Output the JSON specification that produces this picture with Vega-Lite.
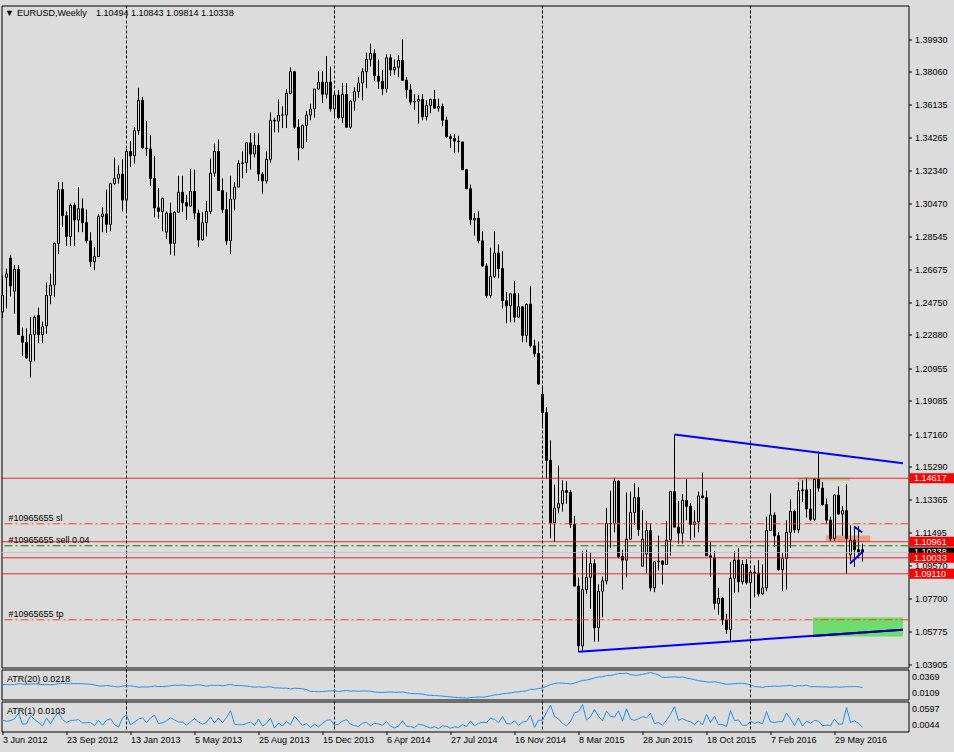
{
"$schema":"https://vega.github.io/schema/vega-lite/v6.json",
"background":"#dcdcdc",
"padding":{"left":-0.5,"top":4.5,"right":0,"bottom":6},
"bounds":"flush",
"spacing":2,
"config":{"view":{"stroke":"#000","strokeWidth":1},"font":"Liberation Sans","axis":{"labelFont":"Liberation Sans","labelFontSize":9,"labelColor":"#000","tickColor":"#000","grid":false,"domain":false,"labelOverlap":false}},
"resolve":{"scale":{"x":"independent","y":"independent"}},
"datasets":{
"c":[
{"k":0,"o":1.2420,"h":1.2630,"l":1.2385,"c":1.2515,"a1":0.0245,"a20":0.02445},
{"k":1,"o":1.2620,"h":1.2670,"l":1.2440,"c":1.2640,"a1":0.0230,"a20":0.02438},
{"k":2,"o":1.2730,"h":1.2750,"l":1.2510,"c":1.2570,"a1":0.0240,"a20":0.02435},
{"k":3,"o":1.2540,"h":1.2690,"l":1.2410,"c":1.2665,"a1":0.0280,"a20":0.02453},
{"k":4,"o":1.2665,"h":1.2690,"l":1.2290,"c":1.2290,"a1":0.0400,"a20":0.0253},
{"k":5,"o":1.2280,"h":1.2330,"l":1.2165,"c":1.2245,"a1":0.0165,"a20":0.0249},
{"k":6,"o":1.2245,"h":1.2325,"l":1.2150,"c":1.2155,"a1":0.0175,"a20":0.02455},
{"k":7,"o":1.2135,"h":1.2390,"l":1.2042,"c":1.2290,"a1":0.0348,"a20":0.02507},
{"k":8,"o":1.2290,"h":1.2400,"l":1.2135,"c":1.2390,"a1":0.0265,"a20":0.02517},
{"k":9,"o":1.2400,"h":1.2445,"l":1.2240,"c":1.2290,"a1":0.0205,"a20":0.02497},
{"k":10,"o":1.2290,"h":1.2365,"l":1.2240,"c":1.2335,"a1":0.0125,"a20":0.02437},
{"k":11,"o":1.2340,"h":1.2590,"l":1.2295,"c":1.2515,"a1":0.0295,"a20":0.0246},
{"k":12,"o":1.2515,"h":1.2640,"l":1.2465,"c":1.2575,"a1":0.0175,"a20":0.02427},
{"k":13,"o":1.2575,"h":1.2820,"l":1.2505,"c":1.2815,"a1":0.0315,"a20":0.0246},
{"k":14,"o":1.2815,"h":1.3170,"l":1.2755,"c":1.3125,"a1":0.0415,"a20":0.02547},
{"k":15,"o":1.3125,"h":1.3170,"l":1.2910,"c":1.2975,"a1":0.0260,"a20":0.02554},
{"k":16,"o":1.2975,"h":1.3000,"l":1.2800,"c":1.2855,"a1":0.0200,"a20":0.0253},
{"k":17,"o":1.2855,"h":1.3045,"l":1.2800,"c":1.3035,"a1":0.0245,"a20":0.0253},
{"k":18,"o":1.3035,"h":1.3050,"l":1.2800,"c":1.2950,"a1":0.0250,"a20":0.02534},
{"k":19,"o":1.2950,"h":1.3140,"l":1.2880,"c":1.3015,"a1":0.0260,"a20":0.0254},
{"k":20,"o":1.3015,"h":1.3075,"l":1.2880,"c":1.2935,"a1":0.0195,"a20":0.0252},
{"k":21,"o":1.2935,"h":1.3010,"l":1.2815,"c":1.2830,"a1":0.0195,"a20":0.0250},
{"k":22,"o":1.2830,"h":1.2880,"l":1.2680,"c":1.2710,"a1":0.0200,"a20":0.0248},
{"k":23,"o":1.2710,"h":1.2795,"l":1.2660,"c":1.2740,"a1":0.0135,"a20":0.0241},
{"k":24,"o":1.2740,"h":1.2985,"l":1.2740,"c":1.2970,"a1":0.0245,"a20":0.0233},
{"k":25,"o":1.2970,"h":1.3025,"l":1.2880,"c":1.2985,"a1":0.0145,"a20":0.0232},
{"k":26,"o":1.2985,"h":1.3125,"l":1.2875,"c":1.2925,"a1":0.0250,"a20":0.0236},
{"k":27,"o":1.2925,"h":1.3165,"l":1.2885,"c":1.3160,"a1":0.0280,"a20":0.0233},
{"k":28,"o":1.3160,"h":1.3310,"l":1.3150,"c":1.3190,"a1":0.0160,"a20":0.02275},
{"k":29,"o":1.3190,"h":1.3265,"l":1.3160,"c":1.3215,"a1":0.0105,"a20":0.02225},
{"k":30,"o":1.3215,"h":1.3300,"l":1.3000,"c":1.3065,"a1":0.0300,"a20":0.0231},
{"k":31,"o":1.3065,"h":1.3360,"l":1.3000,"c":1.3345,"a1":0.0360,"a20":0.02345},
{"k":32,"o":1.3345,"h":1.3405,"l":1.3255,"c":1.3320,"a1":0.0150,"a20":0.0233},
{"k":33,"o":1.3320,"h":1.3485,"l":1.3275,"c":1.3465,"a1":0.0210,"a20":0.0228},
{"k":34,"o":1.3465,"h":1.3712,"l":1.3440,"c":1.3640,"a1":0.0272,"a20":0.0221},
{"k":35,"o":1.3640,"h":1.3660,"l":1.3360,"c":1.3365,"a1":0.0300,"a20":0.0223},
{"k":36,"o":1.3365,"h":1.3520,"l":1.3320,"c":1.3360,"a1":0.0200,"a20":0.0223},
{"k":37,"o":1.3360,"h":1.3440,"l":1.3145,"c":1.3190,"a1":0.0295,"a20":0.0225},
{"k":38,"o":1.3190,"h":1.3320,"l":1.2965,"c":1.3020,"a1":0.0355,"a20":0.0231},
{"k":39,"o":1.3020,"h":1.3135,"l":1.2955,"c":1.3000,"a1":0.0180,"a20":0.0227},
{"k":40,"o":1.3000,"h":1.3080,"l":1.2885,"c":1.3075,"a1":0.0195,"a20":0.0227},
{"k":41,"o":1.2880,"h":1.3000,"l":1.2840,"c":1.2990,"a1":0.0235,"a20":0.0229},
{"k":42,"o":1.2990,"h":1.3050,"l":1.2750,"c":1.2815,"a1":0.0300,"a20":0.0234},
{"k":43,"o":1.2815,"h":1.3000,"l":1.2745,"c":1.2995,"a1":0.0255,"a20":0.0240},
{"k":44,"o":1.2995,"h":1.3205,"l":1.2995,"c":1.3110,"a1":0.0210,"a20":0.0238},
{"k":45,"o":1.3110,"h":1.3205,"l":1.2995,"c":1.3050,"a1":0.0210,"a20":0.0241},
{"k":46,"o":1.3050,"h":1.3095,"l":1.2950,"c":1.3030,"a1":0.0145,"a20":0.0236},
{"k":47,"o":1.3030,"h":1.3245,"l":1.3030,"c":1.3115,"a1":0.0215,"a20":0.0233},
{"k":48,"o":1.3115,"h":1.3240,"l":1.2955,"c":1.2990,"a1":0.0285,"a20":0.0239},
{"k":49,"o":1.2990,"h":1.3010,"l":1.2795,"c":1.2835,"a1":0.0215,"a20":0.0244},
{"k":50,"o":1.2835,"h":1.2995,"l":1.2830,"c":1.2935,"a1":0.0165,"a20":0.0238},
{"k":51,"o":1.2935,"h":1.3060,"l":1.2855,"c":1.3000,"a1":0.0205,"a20":0.0230},
{"k":52,"o":1.3000,"h":1.3305,"l":1.2985,"c":1.3220,"a1":0.0320,"a20":0.0238},
{"k":53,"o":1.3220,"h":1.3390,"l":1.3200,"c":1.3345,"a1":0.0190,"a20":0.0237},
{"k":54,"o":1.3345,"h":1.3415,"l":1.3120,"c":1.3120,"a1":0.0295,"a20":0.02385},
{"k":55,"o":1.3120,"h":1.3190,"l":1.2990,"c":1.3010,"a1":0.0200,"a20":0.02335},
{"k":56,"o":1.3010,"h":1.3110,"l":1.2805,"c":1.2830,"a1":0.0305,"a20":0.0239},
{"k":57,"o":1.2830,"h":1.3205,"l":1.2755,"c":1.3070,"a1":0.0450,"a20":0.02465},
{"k":58,"o":1.3070,"h":1.3170,"l":1.3005,"c":1.3140,"a1":0.0165,"a20":0.0237},
{"k":59,"o":1.3140,"h":1.3295,"l":1.3140,"c":1.3275,"a1":0.0155,"a20":0.0236},
{"k":60,"o":1.3275,"h":1.3345,"l":1.3190,"c":1.3280,"a1":0.0155,"a20":0.0234},
{"k":61,"o":1.3280,"h":1.3400,"l":1.3220,"c":1.3395,"a1":0.0180,"a20":0.0231},
{"k":62,"o":1.3395,"h":1.3450,"l":1.3240,"c":1.3330,"a1":0.0210,"a20":0.02265},
{"k":63,"o":1.3330,"h":1.3450,"l":1.3310,"c":1.3380,"a1":0.0140,"a20":0.0221},
{"k":64,"o":1.3380,"h":1.3450,"l":1.3175,"c":1.3215,"a1":0.0275,"a20":0.0224},
{"k":65,"o":1.3215,"h":1.3225,"l":1.3100,"c":1.3175,"a1":0.0125,"a20":0.0220},
{"k":66,"o":1.3175,"h":1.3345,"l":1.3160,"c":1.3300,"a1":0.0185,"a20":0.0222},
{"k":67,"o":1.3300,"h":1.3570,"l":1.3280,"c":1.3525,"a1":0.0290,"a20":0.02255},
{"k":68,"o":1.3525,"h":1.3540,"l":1.3455,"c":1.3520,"a1":0.0085,"a20":0.02155},
{"k":69,"o":1.3520,"h":1.3645,"l":1.3455,"c":1.3555,"a1":0.0190,"a20":0.0214},
{"k":70,"o":1.3555,"h":1.3605,"l":1.3480,"c":1.3555,"a1":0.0125,"a20":0.0212},
{"k":71,"o":1.3555,"h":1.3705,"l":1.3480,"c":1.3680,"a1":0.0225,"a20":0.0213},
{"k":72,"o":1.3680,"h":1.3830,"l":1.3675,"c":1.3805,"a1":0.0155,"a20":0.0205},
{"k":73,"o":1.3805,"h":1.3810,"l":1.3475,"c":1.3485,"a1":0.0335,"a20":0.0212},
{"k":74,"o":1.3485,"h":1.3530,"l":1.3295,"c":1.3365,"a1":0.0235,"a20":0.0209},
{"k":75,"o":1.3365,"h":1.3500,"l":1.3360,"c":1.3495,"a1":0.0140,"a20":0.0206},
{"k":76,"o":1.3495,"h":1.3580,"l":1.3400,"c":1.3555,"a1":0.0180,"a20":0.0200},
{"k":77,"o":1.3555,"h":1.3620,"l":1.3525,"c":1.3590,"a1":0.0095,"a20":0.0182},
{"k":78,"o":1.3590,"h":1.3705,"l":1.3540,"c":1.3705,"a1":0.0165,"a20":0.0182},
{"k":79,"o":1.3705,"h":1.3810,"l":1.3700,"c":1.3745,"a1":0.0110,"a20":0.0180},
{"k":80,"o":1.3745,"h":1.3810,"l":1.3625,"c":1.3675,"a1":0.0185,"a20":0.01815},
{"k":81,"o":1.3675,"h":1.3895,"l":1.3650,"c":1.3745,"a1":0.0245,"a20":0.0185},
{"k":82,"o":1.3745,"h":1.3835,"l":1.3575,"c":1.3590,"a1":0.0260,"a20":0.0187},
{"k":83,"o":1.3590,"h":1.3690,"l":1.3550,"c":1.3670,"a1":0.0140,"a20":0.0187},
{"k":84,"o":1.3670,"h":1.3700,"l":1.3530,"c":1.3540,"a1":0.0170,"a20":0.0182},
{"k":85,"o":1.3540,"h":1.3740,"l":1.3510,"c":1.3675,"a1":0.0230,"a20":0.0187},
{"k":86,"o":1.3675,"h":1.3740,"l":1.3480,"c":1.3485,"a1":0.0260,"a20":0.0191},
{"k":87,"o":1.3485,"h":1.3640,"l":1.3475,"c":1.3635,"a1":0.0165,"a20":0.0185},
{"k":88,"o":1.3635,"h":1.3715,"l":1.3580,"c":1.3690,"a1":0.0135,"a20":0.0187},
{"k":89,"o":1.3690,"h":1.3775,"l":1.3655,"c":1.3740,"a1":0.0120,"a20":0.0184},
{"k":90,"o":1.3740,"h":1.3825,"l":1.3640,"c":1.3805,"a1":0.0185,"a20":0.0187},
{"k":91,"o":1.3805,"h":1.3915,"l":1.3710,"c":1.3875,"a1":0.0205,"a20":0.0186},
{"k":92,"o":1.3875,"h":1.3967,"l":1.3835,"c":1.3910,"a1":0.0132,"a20":0.0185},
{"k":93,"o":1.3910,"h":1.3935,"l":1.3750,"c":1.3780,"a1":0.0185,"a20":0.0177},
{"k":94,"o":1.3780,"h":1.3875,"l":1.3705,"c":1.3750,"a1":0.0170,"a20":0.0174},
{"k":95,"o":1.3750,"h":1.3815,"l":1.3670,"c":1.3705,"a1":0.0145,"a20":0.0174},
{"k":96,"o":1.3705,"h":1.3905,"l":1.3685,"c":1.3885,"a1":0.0220,"a20":0.0176},
{"k":97,"o":1.3885,"h":1.3905,"l":1.3780,"c":1.3815,"a1":0.0125,"a20":0.0178},
{"k":98,"o":1.3815,"h":1.3875,"l":1.3785,"c":1.3830,"a1":0.0090,"a20":0.0174},
{"k":99,"o":1.3830,"h":1.3900,"l":1.3775,"c":1.3870,"a1":0.0125,"a20":0.0175},
{"k":100,"o":1.3870,"h":1.3993,"l":1.3755,"c":1.3755,"a1":0.0238,"a20":0.0177},
{"k":101,"o":1.3755,"h":1.3775,"l":1.3650,"c":1.3700,"a1":0.0125,"a20":0.0171},
{"k":102,"o":1.3700,"h":1.3735,"l":1.3615,"c":1.3630,"a1":0.0120,"a20":0.0164},
{"k":103,"o":1.3630,"h":1.3675,"l":1.3585,"c":1.3635,"a1":0.0090,"a20":0.0162},
{"k":104,"o":1.3635,"h":1.3670,"l":1.3505,"c":1.3645,"a1":0.0165,"a20":0.01615},
{"k":105,"o":1.3645,"h":1.3675,"l":1.3525,"c":1.3545,"a1":0.0150,"a20":0.01575},
{"k":106,"o":1.3545,"h":1.3640,"l":1.3525,"c":1.3610,"a1":0.0115,"a20":0.0150},
{"k":107,"o":1.3610,"h":1.3650,"l":1.3565,"c":1.3645,"a1":0.0085,"a20":0.0146},
{"k":108,"o":1.3645,"h":1.3700,"l":1.3590,"c":1.3595,"a1":0.0110,"a20":0.0145},
{"k":109,"o":1.3595,"h":1.3650,"l":1.3575,"c":1.3605,"a1":0.0075,"a20":0.0143},
{"k":110,"o":1.3605,"h":1.3620,"l":1.3490,"c":1.3525,"a1":0.0130,"a20":0.0140},
{"k":111,"o":1.3525,"h":1.3545,"l":1.3425,"c":1.3430,"a1":0.0120,"a20":0.0136},
{"k":112,"o":1.3430,"h":1.3445,"l":1.3365,"c":1.3420,"a1":0.0080,"a20":0.0133},
{"k":113,"o":1.3420,"h":1.3445,"l":1.3335,"c":1.3405,"a1":0.0110,"a20":0.0129},
{"k":114,"o":1.3405,"h":1.3435,"l":1.3340,"c":1.3400,"a1":0.0095,"a20":0.0126},
{"k":115,"o":1.3400,"h":1.3400,"l":1.3240,"c":1.3240,"a1":0.0160,"a20":0.0126},
{"k":116,"o":1.3240,"h":1.3245,"l":1.3130,"c":1.3130,"a1":0.0115,"a20":0.0121},
{"k":117,"o":1.3130,"h":1.3155,"l":1.2920,"c":1.2950,"a1":0.0235,"a20":0.0127},
{"k":118,"o":1.2950,"h":1.2990,"l":1.2860,"c":1.2960,"a1":0.0130,"a20":0.0129},
{"k":119,"o":1.2960,"h":1.3000,"l":1.2815,"c":1.2830,"a1":0.0185,"a20":0.0132},
{"k":120,"o":1.2830,"h":1.2885,"l":1.2680,"c":1.2685,"a1":0.0205,"a20":0.0130},
{"k":121,"o":1.2685,"h":1.2700,"l":1.2500,"c":1.2515,"a1":0.0200,"a20":0.0134},
{"k":122,"o":1.2515,"h":1.2790,"l":1.2500,"c":1.2625,"a1":0.0290,"a20":0.0142},
{"k":123,"o":1.2625,"h":1.2885,"l":1.2615,"c":1.2760,"a1":0.0270,"a20":0.0151},
{"k":124,"o":1.2760,"h":1.2810,"l":1.2615,"c":1.2670,"a1":0.0195,"a20":0.0153},
{"k":125,"o":1.2670,"h":1.2770,"l":1.2440,"c":1.2485,"a1":0.0330,"a20":0.0162},
{"k":126,"o":1.2485,"h":1.2535,"l":1.2355,"c":1.2455,"a1":0.0180,"a20":0.0165},
{"k":127,"o":1.2455,"h":1.2530,"l":1.2360,"c":1.2525,"a1":0.0170,"a20":0.0169},
{"k":128,"o":1.2525,"h":1.2600,"l":1.2360,"c":1.2390,"a1":0.0240,"a20":0.0176},
{"k":129,"o":1.2390,"h":1.2530,"l":1.2390,"c":1.2450,"a1":0.0140,"a20":0.0179},
{"k":130,"o":1.2450,"h":1.2455,"l":1.2245,"c":1.2285,"a1":0.0210,"a20":0.0183},
{"k":131,"o":1.2285,"h":1.2470,"l":1.2245,"c":1.2465,"a1":0.0225,"a20":0.0188},
{"k":132,"o":1.2465,"h":1.2570,"l":1.2215,"c":1.2225,"a1":0.0355,"a20":0.0202},
{"k":133,"o":1.2225,"h":1.2260,"l":1.2160,"c":1.2180,"a1":0.0100,"a20":0.02015},
{"k":134,"o":1.2180,"h":1.2250,"l":1.2000,"c":1.2005,"a1":0.0250,"a20":0.0209},
{"k":135,"o":1.1945,"h":1.1995,"l":1.1755,"c":1.1840,"a1":0.0250,"a20":0.0214},
{"k":136,"o":1.1840,"h":1.1870,"l":1.1460,"c":1.1565,"a1":0.0410,"a20":0.02285},
{"k":137,"o":1.1565,"h":1.1680,"l":1.1115,"c":1.1205,"a1":0.0565,"a20":0.0245},
{"k":138,"o":1.1205,"h":1.1425,"l":1.1095,"c":1.1290,"a1":0.0330,"a20":0.0255},
{"k":139,"o":1.1290,"h":1.1535,"l":1.1260,"c":1.1315,"a1":0.0275,"a20":0.02595},
{"k":140,"o":1.1315,"h":1.1450,"l":1.1270,"c":1.1390,"a1":0.0180,"a20":0.0258},
{"k":141,"o":1.1390,"h":1.1445,"l":1.1315,"c":1.1380,"a1":0.0130,"a20":0.0255},
{"k":142,"o":1.1380,"h":1.1395,"l":1.1175,"c":1.1195,"a1":0.0220,"a20":0.0251},
{"k":143,"o":1.1195,"h":1.1245,"l":1.0840,"c":1.0840,"a1":0.0405,"a20":0.0258},
{"k":144,"o":1.0840,"h":1.0890,"l":1.0460,"c":1.0495,"a1":0.0430,"a20":0.0270},
{"k":145,"o":1.0495,"h":1.1040,"l":1.0460,"c":1.0820,"a1":0.0580,"a20":0.0282},
{"k":146,"o":1.0820,"h":1.1050,"l":1.0795,"c":1.0890,"a1":0.0255,"a20":0.0286},
{"k":147,"o":1.0890,"h":1.1035,"l":1.0710,"c":1.0970,"a1":0.0325,"a20":0.0294},
{"k":148,"o":1.0970,"h":1.0995,"l":1.0520,"c":1.0600,"a1":0.0475,"a20":0.03055},
{"k":149,"o":1.0600,"h":1.0850,"l":1.0520,"c":1.0810,"a1":0.0330,"a20":0.0315},
{"k":150,"o":1.0810,"h":1.0895,"l":1.0660,"c":1.0870,"a1":0.0235,"a20":0.0316},
{"k":151,"o":1.0870,"h":1.1290,"l":1.0850,"c":1.1200,"a1":0.0440,"a20":0.0327},
{"k":152,"o":1.1200,"h":1.1390,"l":1.1060,"c":1.1200,"a1":0.0330,"a20":0.0326},
{"k":153,"o":1.1200,"h":1.1465,"l":1.1150,"c":1.1445,"a1":0.0315,"a20":0.03365},
{"k":154,"o":1.1445,"h":1.1450,"l":1.1000,"c":1.1010,"a1":0.0450,"a20":0.0346},
{"k":155,"o":1.1010,"h":1.1050,"l":1.0820,"c":1.0990,"a1":0.0230,"a20":0.0345},
{"k":156,"o":1.0990,"h":1.1380,"l":1.0890,"c":1.1110,"a1":0.0490,"a20":0.0349},
{"k":157,"o":1.1110,"h":1.1385,"l":1.1110,"c":1.1265,"a1":0.0275,"a20":0.0335},
{"k":158,"o":1.1265,"h":1.1435,"l":1.1190,"c":1.1350,"a1":0.0245,"a20":0.03305},
{"k":159,"o":1.1350,"h":1.1410,"l":1.1130,"c":1.1165,"a1":0.0280,"a20":0.0331},
{"k":160,"o":1.0955,"h":1.1280,"l":1.0955,"c":1.1110,"a1":0.0325,"a20":0.0338},
{"k":161,"o":1.1025,"h":1.1215,"l":1.0915,"c":1.1160,"a1":0.0300,"a20":0.03465},
{"k":162,"o":1.1160,"h":1.1200,"l":1.0810,"c":1.0830,"a1":0.0390,"a20":0.0355},
{"k":163,"o":1.0830,"h":1.0985,"l":1.0805,"c":1.0980,"a1":0.0180,"a20":0.0344},
{"k":164,"o":1.0980,"h":1.1130,"l":1.0930,"c":1.0985,"a1":0.0200,"a20":0.0332},
{"k":165,"o":1.0985,"h":1.0990,"l":1.0850,"c":1.0965,"a1":0.0140,"a20":0.0310},
{"k":166,"o":1.0965,"h":1.1215,"l":1.0965,"c":1.1105,"a1":0.0250,"a20":0.0310},
{"k":167,"o":1.1105,"h":1.1390,"l":1.1015,"c":1.1385,"a1":0.0375,"a20":0.03125},
{"k":168,"o":1.1385,"h":1.1714,"l":1.1180,"c":1.1180,"a1":0.0534,"a20":0.03155},
{"k":169,"o":1.1180,"h":1.1330,"l":1.1085,"c":1.1145,"a1":0.0245,"a20":0.0311},
{"k":170,"o":1.1145,"h":1.1370,"l":1.1085,"c":1.1335,"a1":0.0285,"a20":0.0314},
{"k":171,"o":1.1335,"h":1.1460,"l":1.1220,"c":1.1300,"a1":0.0240,"a20":0.0304},
{"k":172,"o":1.1300,"h":1.1320,"l":1.1105,"c":1.1195,"a1":0.0215,"a20":0.0298},
{"k":173,"o":1.1195,"h":1.1280,"l":1.1120,"c":1.1210,"a1":0.0160,"a20":0.0290},
{"k":174,"o":1.1210,"h":1.1385,"l":1.1150,"c":1.1360,"a1":0.0235,"a20":0.0280},
{"k":175,"o":1.1360,"h":1.1495,"l":1.1345,"c":1.1350,"a1":0.0150,"a20":0.0276},
{"k":176,"o":1.1350,"h":1.1390,"l":1.1015,"c":1.1015,"a1":0.0375,"a20":0.0270},
{"k":177,"o":1.1015,"h":1.1095,"l":1.0895,"c":1.1005,"a1":0.0200,"a20":0.0266},
{"k":178,"o":1.1005,"h":1.1040,"l":1.0705,"c":1.0740,"a1":0.0335,"a20":0.0271},
{"k":179,"o":1.0740,"h":1.0830,"l":1.0675,"c":1.0770,"a1":0.0155,"a20":0.0264},
{"k":180,"o":1.0770,"h":1.0775,"l":1.0615,"c":1.0645,"a1":0.0160,"a20":0.0256},
{"k":181,"o":1.0645,"h":1.0680,"l":1.0565,"c":1.0590,"a1":0.0115,"a20":0.0247},
{"k":182,"o":1.0590,"h":1.0980,"l":1.0525,"c":1.0885,"a1":0.0455,"a20":0.0250},
{"k":183,"o":1.0885,"h":1.1040,"l":1.0800,"c":1.0990,"a1":0.0240,"a20":0.0253},
{"k":184,"o":1.0990,"h":1.1060,"l":1.0805,"c":1.0865,"a1":0.0255,"a20":0.0256},
{"k":185,"o":1.0865,"h":1.0990,"l":1.0850,"c":1.0965,"a1":0.0140,"a20":0.0256},
{"k":186,"o":1.0965,"h":1.0995,"l":1.0850,"c":1.0860,"a1":0.0145,"a20":0.0251},
{"k":187,"o":1.0860,"h":1.0935,"l":1.0710,"c":1.0920,"a1":0.0225,"a20":0.0243},
{"k":188,"o":1.0920,"h":1.0960,"l":1.0775,"c":1.0915,"a1":0.0185,"a20":0.0226},
{"k":189,"o":1.0915,"h":1.0990,"l":1.0780,"c":1.0795,"a1":0.0210,"a20":0.0224},
{"k":190,"o":1.0795,"h":1.0965,"l":1.0790,"c":1.0830,"a1":0.0175,"a20":0.02185},
{"k":191,"o":1.0830,"h":1.1240,"l":1.0810,"c":1.1160,"a1":0.0430,"a20":0.0228},
{"k":192,"o":1.1160,"h":1.1375,"l":1.1160,"c":1.1250,"a1":0.0215,"a20":0.0228},
{"k":193,"o":1.1250,"h":1.1265,"l":1.1065,"c":1.1130,"a1":0.0200,"a20":0.0230},
{"k":194,"o":1.1130,"h":1.1150,"l":1.0930,"c":1.0935,"a1":0.0220,"a20":0.0229},
{"k":195,"o":1.0935,"h":1.1030,"l":1.0810,"c":1.1000,"a1":0.0220,"a20":0.0233},
{"k":196,"o":1.1000,"h":1.1220,"l":1.0820,"c":1.1150,"a1":0.0400,"a20":0.0234},
{"k":197,"o":1.1150,"h":1.1340,"l":1.1060,"c":1.1270,"a1":0.0280,"a20":0.0238},
{"k":198,"o":1.1270,"h":1.1280,"l":1.1145,"c":1.1165,"a1":0.0135,"a20":0.0228},
{"k":199,"o":1.1165,"h":1.1440,"l":1.1145,"c":1.1390,"a1":0.0295,"a20":0.0235},
{"k":200,"o":1.1390,"h":1.1450,"l":1.1325,"c":1.1395,"a1":0.0125,"a20":0.0233},
{"k":201,"o":1.1395,"h":1.1465,"l":1.1235,"c":1.1285,"a1":0.0230,"a20":0.0239},
{"k":202,"o":1.1285,"h":1.1400,"l":1.1215,"c":1.1225,"a1":0.0185,"a20":0.02255},
{"k":203,"o":1.1225,"h":1.1460,"l":1.1215,"c":1.1455,"a1":0.0245,"a20":0.0226},
{"k":204,"o":1.1455,"h":1.1616,"l":1.1385,"c":1.1405,"a1":0.0231,"a20":0.02245},
{"k":205,"o":1.1405,"h":1.1440,"l":1.1305,"c":1.1310,"a1":0.0135,"a20":0.0224},
{"k":206,"o":1.1310,"h":1.1345,"l":1.1200,"c":1.1220,"a1":0.0145,"a20":0.0224},
{"k":207,"o":1.1220,"h":1.1240,"l":1.1100,"c":1.1115,"a1":0.0140,"a20":0.0220},
{"k":208,"o":1.1115,"h":1.1370,"l":1.1100,"c":1.1365,"a1":0.0270,"a20":0.0224},
{"k":209,"o":1.1365,"h":1.1415,"l":1.1250,"c":1.1255,"a1":0.0165,"a20":0.0222},
{"k":210,"o":1.1255,"h":1.1300,"l":1.1130,"c":1.1275,"a1":0.0170,"a20":0.0222},
{"k":211,"o":1.1275,"h":1.1428,"l":1.0912,"c":1.1115,"a1":0.0516,"a20":0.0226},
{"k":212,"o":1.1020,"h":1.1190,"l":1.0985,"c":1.1105,"a1":0.0205,"a20":0.02256},
{"k":213,"o":1.1105,"h":1.1185,"l":1.0950,"c":1.1050,"a1":0.0235,"a20":0.0227},
{"k":214,"o":1.1050,"h":1.1185,"l":1.1000,"c":1.1035,"a1":0.0185,"a20":0.02256},
{"k":215,"o":1.10494,"h":1.10843,"l":1.09814,"c":1.10338,"a1":0.0103,"a20":0.0218}
],
"sep":[{"k":31},{"k":83},{"k":135},{"k":187}],
"box":[
{"id":"tp","k1":202.6,"k2":225.1,"p1":1.05495,"p2":1.0659},
{"id":"sl","k1":205.9,"k2":216.9,"p1":1.1097,"p2":1.1132},
{"id":"hi","k1":198.9,"k2":211.9,"p1":1.1449,"p2":1.1466}
],
"lv":[
{"p":1.10338,"kind":"bid"},
{"p":1.14617,"kind":"lvl"},{"p":1.10961,"kind":"lvl"},{"p":1.10033,"kind":"lvl"},{"p":1.09110,"kind":"lvl"},
{"p":1.11991,"kind":"stop"},{"p":1.06458,"kind":"stop"},{"p":1.10723,"kind":"open"}
],
"tl":[
{"id":"u","k":168,"p":1.1714},{"id":"u","k":225.1,"p":1.1548},
{"id":"d","k":144,"p":1.0462},{"id":"d","k":225.1,"p":1.0588},
{"id":"a","k":211.9,"p":1.0970},{"id":"a","k":215.1,"p":1.1040},
{"id":"b","k":212.9,"p":1.1184},{"id":"b","k":214.9,"p":1.1149}
],
"tl2":[
{"id":"n","k":202.6,"p":1.05531},{"id":"n","k":225.1,"p":1.0588}
],
"ord":[
{"k":1.5,"p":1.11991,"t":"#10965655 sl"},
{"k":1.5,"p":1.10723,"t":"#10965655 sell 0.04"},
{"k":1.5,"p":1.06458,"t":"#10965655 tp"}
],
"hdr":[
{"k":0.625,"p":1.41403,"t":"▼"},
{"k":3.625,"p":1.41403,"t":"EURUSD,Weekly"},
{"k":23.375,"p":1.41403,"t":"1.10494 1.10843 1.09814 1.10338"}
],
"tag":[
{"p":1.10338,"t":"1.10338","kind":"bid"},
{"p":1.14617,"t":"1.14617","kind":"lvl"},
{"p":1.10961,"t":"1.10961","kind":"lvl"},
{"p":1.10033,"t":"1.10033","kind":"lvl"},
{"p":1.09110,"t":"1.09110","kind":"lvl"}
],
"l20":[{"k":1.125,"v":0.03001,"t":"ATR(20) 0.0218"}],
"l1":[{"k":1.125,"v":0.04327,"t":"ATR(1) 0.0103"}]
},
"vconcat":[
{
"width":907,"height":662,
"resolve":{"scale":{"color":"independent","strokeDash":"independent"}},
"layer":[
{"data":{"name":"sep"},"mark":{"type":"rule","stroke":"#000","strokeWidth":1,"strokeDash":[3,2]},
 "encoding":{"x":{"field":"k","type":"quantitative","scale":{"domain":[-0.25,226.5],"nice":false,"zero":false,"padding":0},"axis":null,"title":null}}},
{"data":{"name":"box"},"mark":{"type":"rect"},
 "encoding":{"x":{"field":"k1","type":"quantitative","axis":null,"title":null},"x2":{"field":"k2"},
  "y":{"field":"p1","type":"quantitative","title":null},"y2":{"field":"p2"},
  "color":{"field":"id","type":"nominal","legend":null,"scale":{"domain":["tp","sl","hi"],"range":["#6fdc6f","#eda07f","#a9cda0"]}}}},
{"data":{"name":"c"},"mark":{"type":"rule","stroke":"#000","strokeWidth":1},
 "encoding":{"x":{"field":"k","type":"quantitative","axis":null,"title":null},
  "y":{"field":"l","type":"quantitative","title":null,"scale":{"domain":[1.03709,1.41864],"nice":false,"zero":false,"padding":0},
   "axis":{"orient":"right","values":[1.39930,1.38060,1.36135,1.34265,1.32340,1.30470,1.28545,1.26675,1.24750,1.22880,1.20955,1.19085,1.17160,1.15290,1.13365,1.11495,1.09570,1.07700,1.05775,1.03905],"tickCount":40,"format":".5f","tickSize":3,"labelPadding":3,"labelOverlap":false,"domain":false,"grid":false,"labelFont":"Liberation Sans","labelFontSize":9,"labelColor":"#000"}},
  "y2":{"field":"h"}}},
{"data":{"name":"c"},"mark":{"type":"bar","size":2,"stroke":"#000","strokeWidth":1},
 "encoding":{"x":{"field":"k","type":"quantitative","axis":null,"title":null},
  "y":{"field":"o","type":"quantitative","title":null},"y2":{"field":"c"},
  "fill":{"condition":{"test":"datum.c >= datum.o","value":"#dcdcdc"},"value":"#000"}}},
{"data":{"name":"lv"},"mark":{"type":"rule","strokeWidth":1},
 "encoding":{"y":{"field":"p","type":"quantitative","title":null},
  "color":{"field":"kind","type":"nominal","legend":null,"scale":{"domain":["bid","lvl","stop","open"],"range":["#c0c0c0","#ff0000","#ff4500","#008000"]}},
  "strokeDash":{"field":"kind","type":"nominal","legend":null,"scale":{"domain":["bid","lvl","stop","open"],"range":[[1,0],[1,0],[8,3,2,3],[8,3,2,3]]}}}},
{"data":{"name":"tl"},"mark":{"type":"line","stroke":"#0000ff","strokeWidth":2},
 "encoding":{"x":{"field":"k","type":"quantitative","axis":null,"title":null},"y":{"field":"p","type":"quantitative","title":null},"detail":{"field":"id","type":"nominal"}}},
{"data":{"name":"tl2"},"mark":{"type":"line","stroke":"#00008b","strokeWidth":2},
 "encoding":{"x":{"field":"k","type":"quantitative","axis":null,"title":null},"y":{"field":"p","type":"quantitative","title":null}}},
{"data":{"name":"ord"},"mark":{"type":"text","align":"left","baseline":"bottom","dy":-1,"font":"Liberation Sans","fontSize":9,"color":"#000"},
 "encoding":{"x":{"field":"k","type":"quantitative","axis":null,"title":null},"y":{"field":"p","type":"quantitative","title":null},"text":{"field":"t"}}},
{"data":{"name":"hdr"},"mark":{"type":"text","align":"left","baseline":"middle","font":"Liberation Sans","fontSize":9,"color":"#000"},
 "encoding":{"x":{"field":"k","type":"quantitative","axis":null,"title":null},"y":{"field":"p","type":"quantitative","title":null},"text":{"field":"t"}}},
{"data":{"name":"tag"},"transform":[{"filter":"datum.kind == 'bid'"}],"mark":{"type":"tick","orient":"horizontal","size":46,"thickness":10,"filled":true,"opacity":1,"color":"#000"},
 "encoding":{"x":{"datum":232.4,"type":"quantitative"},"y":{"field":"p","type":"quantitative","title":null}}},
{"data":{"name":"tag"},"transform":[{"filter":"datum.kind == 'bid'"}],"mark":{"type":"text","align":"left","baseline":"middle","font":"Liberation Sans","fontSize":9,"color":"#ffffff"},
 "encoding":{"x":{"datum":227.9,"type":"quantitative"},"y":{"field":"p","type":"quantitative","title":null},"text":{"field":"t"}}},
{"data":{"name":"tag"},"transform":[{"filter":"datum.kind == 'lvl'"}],"mark":{"type":"tick","orient":"horizontal","size":46,"thickness":10,"filled":true,"opacity":1,"color":"#ff0000"},
 "encoding":{"x":{"datum":232.4,"type":"quantitative"},"y":{"field":"p","type":"quantitative","title":null}}},
{"data":{"name":"tag"},"transform":[{"filter":"datum.kind == 'lvl'"}],"mark":{"type":"text","align":"left","baseline":"middle","font":"Liberation Sans","fontSize":9,"color":"#ffffff"},
 "encoding":{"x":{"datum":227.9,"type":"quantitative"},"y":{"field":"p","type":"quantitative","title":null},"text":{"field":"t"}}}
]
},
{
"width":907,"height":30,
"layer":[
{"data":{"name":"sep"},"mark":{"type":"rule","stroke":"#000","strokeWidth":1,"strokeDash":[3,2]},
 "encoding":{"x":{"field":"k","type":"quantitative","scale":{"domain":[-0.25,226.5],"nice":false,"zero":false,"padding":0},"axis":null,"title":null}}},
{"data":{"name":"c"},"mark":{"type":"line","stroke":"#1e90ff","strokeWidth":1},
 "encoding":{"x":{"field":"k","type":"quantitative","axis":null,"title":null},
  "y":{"field":"a20","type":"quantitative","title":null,"scale":{"domain":[0.0109,0.0382],"nice":false,"zero":false},
   "axis":{"orient":"right","values":[0.03183,0.01727],"labelExpr":"datum.value > 0.025 ? '0.0369' : '0.0109'","ticks":false,"labelPadding":3,"domain":false,"grid":false}}}},
{"data":{"name":"l20"},"mark":{"type":"text","align":"left","baseline":"middle","font":"Liberation Sans","fontSize":9,"color":"#000"},
 "encoding":{"x":{"field":"k","type":"quantitative","axis":null,"title":null},"y":{"field":"v","type":"quantitative","title":null},"text":{"field":"t"}}}
]
},
{
"width":907,"height":30,
"layer":[
{"data":{"name":"sep"},"mark":{"type":"rule","stroke":"#000","strokeWidth":1,"strokeDash":[3,2]},
 "encoding":{"x":{"field":"k","type":"quantitative","scale":{"domain":[-0.25,226.5],"nice":false,"zero":false,"padding":0},"title":null,
  "axis":{"orient":"bottom","values":[0,16,32,48,64,80,96,112,128,144,160,176,192,208],"tickCount":40,"labelExpr":"timeFormat(datetime(2012,5,3+7*datum.value),'%-d %b %Y')","labelAlign":"left","labelFlush":false,"labelOverlap":false,"tickSize":3,"labelPadding":1,"domain":false,"grid":false}}}},
{"data":{"name":"c"},"mark":{"type":"line","stroke":"#1e90ff","strokeWidth":1},
 "encoding":{"x":{"field":"k","type":"quantitative","title":null},
  "y":{"field":"a1","type":"quantitative","title":null,"scale":{"domain":[0.0012,0.0643],"nice":false,"zero":false},
   "axis":{"orient":"right","values":[0.0496,0.0159],"labelExpr":"datum.value > 0.03 ? '0.0597' : '0.0044'","ticks":false,"labelPadding":3,"domain":false,"grid":false}}}},
{"data":{"name":"l1"},"mark":{"type":"text","align":"left","baseline":"middle","font":"Liberation Sans","fontSize":9,"color":"#000"},
 "encoding":{"x":{"field":"k","type":"quantitative","title":null},"y":{"field":"v","type":"quantitative","title":null},"text":{"field":"t"}}}
]
}
]
}
